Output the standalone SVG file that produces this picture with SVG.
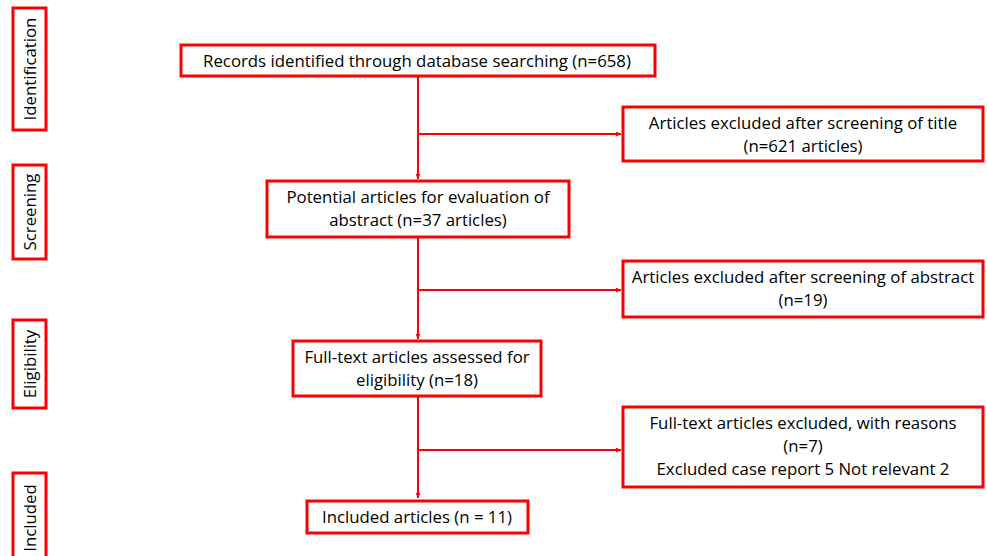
<svg xmlns="http://www.w3.org/2000/svg" width="987" height="556" viewBox="0 0 987 556">
<defs>
<style>
.box{fill:#fff;stroke:#ff0000;stroke-width:3}
.t{font-family:"Open Sans","Liberation Sans",sans-serif;font-size:16.8px;fill:#000;text-anchor:middle}
.c{stroke:#ff0000;stroke-width:2;fill:none}
</style>
<marker id="ah" viewBox="0 0 10 10" refX="10" refY="5" markerWidth="5" markerHeight="5" orient="auto" markerUnits="userSpaceOnUse">
<path d="M0,0 L10,5 L0,10 z" fill="#ff0000"/>
</marker>
</defs>
<rect width="987" height="556" fill="#fff"/>
<g id="stage-identification"><rect class="box" x="13" y="8" width="33" height="122"/><text class="t" transform="translate(36,69) rotate(-90)">Identification</text></g>
<g id="stage-screening"><rect class="box" x="13" y="165" width="33" height="94"/><text class="t" transform="translate(36,212) rotate(-90)">Screening</text></g>
<g id="stage-eligibility"><rect class="box" x="13" y="320" width="33" height="88"/><text class="t" transform="translate(36,364) rotate(-90)">Eligibility</text></g>
<g id="stage-included"><rect class="box" x="13" y="473" width="33" height="90"/><text class="t" transform="translate(36,518) rotate(-90)">Included</text></g>
<g id="connectors">
<path class="c" d="M418,76 V179" marker-end="url(#ah)"/>
<path class="c" d="M418,134 H621" marker-end="url(#ah)"/>
<path class="c" d="M418,237 V339" marker-end="url(#ah)"/>
<path class="c" d="M418,290 H621" marker-end="url(#ah)"/>
<path class="c" d="M418,396 V498" marker-end="url(#ah)"/>
<path class="c" d="M418,450 H621" marker-end="url(#ah)"/>
</g>
<g id="records"><rect class="box" x="181" y="45" width="474" height="31"/><text class="t" x="417" y="67">Records identified through database searching (n=658)</text></g>
<g id="excluded-title"><rect class="box" x="623" y="107" width="360" height="54"/><text class="t" x="803" y="129">Articles excluded after screening of title</text><text class="t" x="803" y="152">(n=621 articles)</text></g>
<g id="potential"><rect class="box" x="267" y="181" width="302" height="56"/><text class="t" x="418" y="203">Potential articles for evaluation of</text><text class="t" x="418" y="226">abstract (n=37 articles)</text></g>
<g id="excluded-abstract"><rect class="box" x="623" y="261" width="360" height="56"/><text class="t" x="803" y="283">Articles excluded after screening of abstract</text><text class="t" x="803" y="306">(n=19)</text></g>
<g id="fulltext"><rect class="box" x="293" y="341" width="248" height="55"/><text class="t" x="417" y="363">Full-text articles assessed for</text><text class="t" x="417" y="386">eligibility (n=18)</text></g>
<g id="excluded-fulltext"><rect class="box" x="623" y="407" width="360" height="80"/><text class="t" x="803" y="429">Full-text articles excluded, with reasons</text><text class="t" x="803" y="452">(n=7)</text><text class="t" x="803" y="475">Excluded case report 5 Not relevant 2</text></g>
<g id="included"><rect class="box" x="307" y="501" width="221" height="32"/><text class="t" x="417" y="523">Included articles (n = 11)</text></g>
</svg>
